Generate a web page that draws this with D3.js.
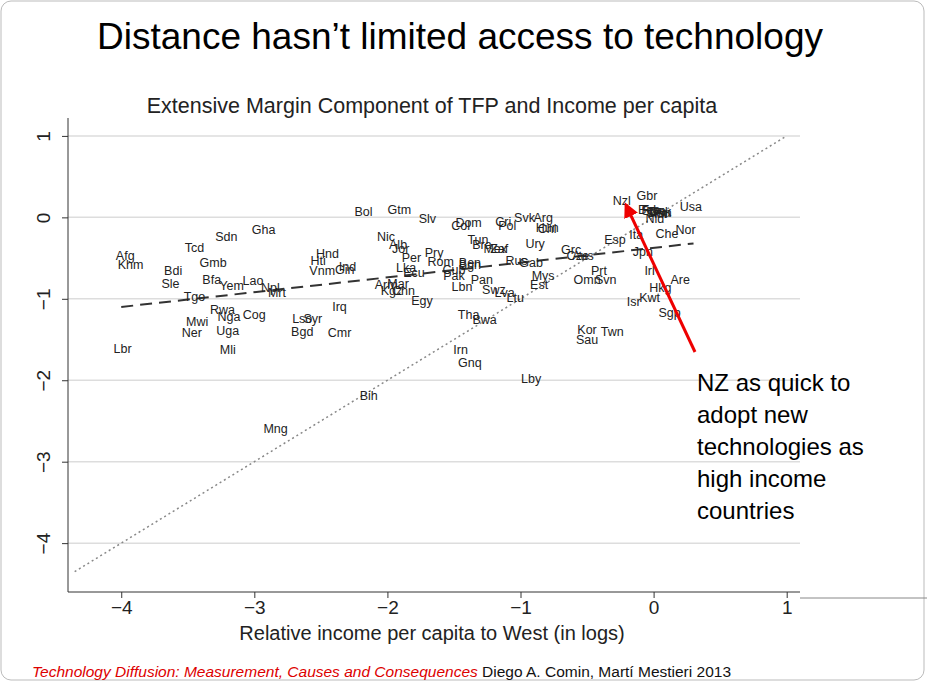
<!DOCTYPE html>
<html><head><meta charset="utf-8">
<script src="https://cdn.jsdelivr.net/npm/d3@7"></script>
<style>body{margin:0;background:#fff;font-family:Arial,"Liberation Sans",sans-serif}</style>
</head><body><svg></svg>
<script>
const W = 927, H = 683;
const svg = d3.select("svg").attr("width", W).attr("height", H);

// label positions: [name, relative income (log), TFP component]
const pts = [
["Afg",-3.97,-0.47],["Khm",-3.93,-0.58],["Bdi",-3.61,-0.65],["Sle",-3.63,-0.81],["Tcd",-3.45,-0.37],
["Sdn",-3.21,-0.24],["Gha",-2.93,-0.15],["Gmb",-3.31,-0.56],["Bfa",-3.32,-0.76],["Yem",-3.17,-0.84],
["Lao",-3.01,-0.78],["Npl",-2.88,-0.86],["Mrt",-2.83,-0.93],["Tgo",-3.45,-0.97],["Rwa",-3.24,-1.13],
["Nga",-3.19,-1.22],["Cog",-3.0,-1.2],["Mwi",-3.43,-1.28],["Ner",-3.47,-1.42],["Uga",-3.2,-1.39],
["Mli",-3.2,-1.62],["Lbr",-3.99,-1.61],["Hti",-2.52,-0.53],["Hnd",-2.45,-0.44],["Ind",-2.3,-0.61],
["Gin",-2.32,-0.64],["Vnm",-2.49,-0.66],["Lso",-2.64,-1.24],["Syr",-2.56,-1.24],["Bgd",-2.64,-1.4],
["Cmr",-2.36,-1.42],["Irq",-2.36,-1.09],["Bol",-2.18,0.07],["Gtm",-1.91,0.09],["Slv",-1.7,-0.01],
["Nic",-2.01,-0.24],["Alb",-1.92,-0.34],["Jor",-1.9,-0.38],["Per",-1.82,-0.5],["Pry",-1.65,-0.43],
["Rom",-1.6,-0.54],["Lka",-1.86,-0.62],["Ecu",-1.8,-0.68],["Cub",-1.5,-0.64],["Pak",-1.5,-0.72],
["Ben",-1.38,-0.56],["Bgn",-1.38,-0.58],["Arm",-2.01,-0.83],["Mar",-1.92,-0.81],["Chn",-1.88,-0.9],
["Kgz",-1.97,-0.9],["Egy",-1.74,-1.02],["Lbn",-1.44,-0.85],["Dom",-1.39,-0.06],["Col",-1.45,-0.1],
["Tun",-1.32,-0.27],["Bra",-1.29,-0.33],["Zaf",-1.16,-0.38],["Mex",-1.19,-0.38],["Cri",-1.13,-0.05],
["Pol",-1.1,-0.1],["Svk",-0.97,0.0],["Arg",-0.83,0.0],["Hun",-0.8,-0.12],["Chl",-0.8,-0.14],
["Ury",-0.89,-0.32],["Rus",-1.03,-0.53],["Gab",-0.92,-0.55],["Pan",-1.29,-0.77],["Swz",-1.2,-0.89],
["Lva",-1.12,-0.93],["Ltu",-1.04,-0.98],["Mys",-0.83,-0.71],["Est",-0.86,-0.82],["Tha",-1.39,-1.2],
["Bwa",-1.27,-1.26],["Irn",-1.45,-1.62],["Gnq",-1.38,-1.78],["Lby",-0.92,-1.98],["Bih",-2.14,-2.19],
["Mng",-2.84,-2.59],["Grc",-0.62,-0.4],["Cze",-0.57,-0.47],["Aus",-0.53,-0.47],["Prt",-0.41,-0.65],
["Omn",-0.5,-0.76],["Svn",-0.36,-0.76],["Kor",-0.5,-1.38],["Sau",-0.5,-1.5],["Twn",-0.31,-1.4],
["Esp",-0.29,-0.27],["Ita",-0.13,-0.21],["Jpn",-0.08,-0.42],["Irl",-0.03,-0.65],["Isr",-0.15,-1.03],
["Kwt",-0.03,-0.98],["Hkg",0.05,-0.86],["Are",0.2,-0.76],["Sgp",0.12,-1.17],["Che",0.1,-0.2],
["Nor",0.24,-0.15],["Nzl",-0.24,0.21],["Gbr",-0.05,0.27],["Usa",0.28,0.13],["Bel",-0.05,0.09],
["Fra",-0.02,0.1],["Dnk",0.05,0.07],["Swe",0.0,0.08],["Fin",0.07,0.06],["Aut",0.03,0.05],
["Deu",0.04,0.06],["Nld",0.01,-0.01]
];

const x = d3.scaleLinear().domain([-4.4, 1.1]).range([68, 800]);
const y = d3.scaleLinear().domain([1.22, -4.6]).range([118, 592]);

// slide frame
svg.append("rect").attr("x", 1).attr("y", 1).attr("width", W - 4).attr("height", H - 4)
  .attr("rx", 10).attr("fill", "none").attr("stroke", "#bbb");
svg.append("line").attr("x1", 800).attr("x2", W).attr("y1", 598).attr("y2", 598).attr("stroke", "#888");

svg.append("text").attr("x", 460).attr("y", 49).attr("text-anchor", "middle")
  .attr("font-size", 37).text("Distance hasn’t limited access to technology");
svg.append("text").attr("x", 432).attr("y", 113).attr("text-anchor", "middle")
  .attr("font-size", 21.5).attr("fill", "#222").text("Extensive Margin Component of TFP and Income per capita");

const g = svg.append("g");
const yt = [1, 0, -1, -2, -3, -4];
g.selectAll(".grid").data(yt).enter().append("line")
  .attr("x1", 68).attr("x2", 800).attr("y1", y).attr("y2", y)
  .attr("stroke", "#ddd").attr("stroke-width", 1.5);

const yAxis = g.append("g").attr("transform", "translate(68,0)")
  .call(d3.axisLeft(y).tickValues(yt).tickSize(6).tickFormat(d3.format("d")));
yAxis.selectAll("text").attr("transform", "rotate(-90)").attr("x", 0).attr("y", -25)
  .attr("dy", "0.35em").style("text-anchor", "middle");
const xAxis = g.append("g").attr("transform", "translate(0,592)")
  .call(d3.axisBottom(x).tickValues([-4, -3, -2, -1, 0, 1]).tickSize(6).tickFormat(d3.format("d")));
[yAxis, xAxis].forEach(a => {
  a.selectAll("text").attr("font-size", 19).attr("font-family", "Arial, sans-serif").attr("fill", "#222");
  a.selectAll("line,path").attr("stroke", "#333");
});
xAxis.select(".domain").attr("d", "M68,0H800");
yAxis.select(".domain").attr("d", "M0,118V592");

svg.append("text").attr("x", 432).attr("y", 640).attr("text-anchor", "middle")
  .attr("font-size", 20).attr("fill", "#222").text("Relative income per capita to West (in logs)");

// 45 degree line
const line = d3.line().x(d => x(d[0])).y(d => y(d[1]));
g.append("path").attr("d", line([[-4.35, -4.35], [1, 1]]))
  .attr("stroke", "#888").attr("stroke-width", 1.5).attr("stroke-dasharray", "2,3").attr("fill", "none");
// fitted line
g.append("path").attr("d", line([[-4, -1.1], [0.3, -0.32]]))
  .attr("stroke", "#333").attr("stroke-width", 2).attr("stroke-dasharray", "12,7").attr("fill", "none");

g.selectAll(".lab").data(pts).enter().append("text")
  .attr("x", d => x(d[1])).attr("y", d => y(d[2])).attr("dy", "0.35em")
  .attr("text-anchor", "middle").attr("font-size", 12.5).attr("fill", "#222").text(d => d[0]);

// arrow + annotation
svg.append("defs").append("marker").attr("id", "ah").attr("viewBox", "0 0 10 10")
  .attr("refX", 8).attr("refY", 5).attr("markerWidth", 5).attr("markerHeight", 5).attr("orient", "auto")
  .append("path").attr("d", "M0,0L10,5L0,10z").attr("fill", "#e00");
svg.append("line").attr("x1", 695).attr("y1", 352).attr("x2", 626).attr("y2", 205)
  .attr("stroke", "#e00").attr("stroke-width", 3).attr("marker-end", "url(#ah)");
const ann = ["NZ as quick to", "adopt new", "technologies as", "high income", "countries"];
svg.append("g").selectAll("text").data(ann).enter().append("text")
  .attr("x", 697).attr("y", (d, i) => 391 + i * 32).attr("font-size", 24).text(d => d);

const foot = svg.append("text").attr("x", 32).attr("y", 677).attr("font-size", 15.5);
foot.append("tspan").attr("fill", "#d00").attr("font-style", "italic")
  .text("Technology Diffusion: Measurement, Causes and Consequences");
foot.append("tspan").attr("fill", "#111").text(" Diego A. Comin, Martí Mestieri 2013");
</script></body></html>
